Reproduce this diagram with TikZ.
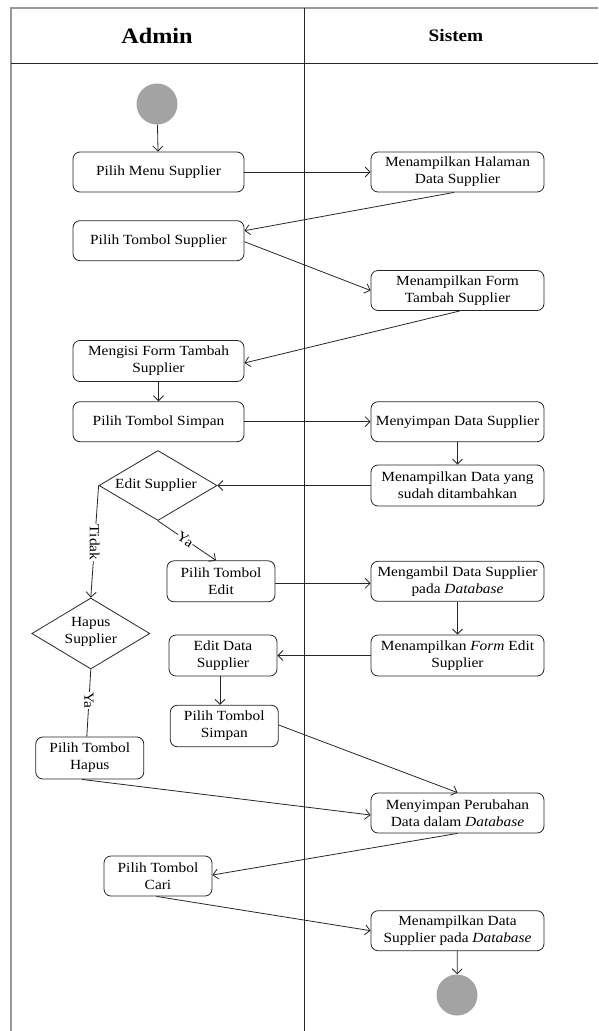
\documentclass[tikz,border=0pt]{standalone}
\usepackage{fontspec}
\setmainfont{Liberation Serif}[FakeStretch=1.1]
\usetikzlibrary{arrows.meta,shapes.geometric,calc}
\begin{document}
\begin{tikzpicture}[x=1pt,y=-1pt,
  txt/.style={font=\fontsize{14}{17}\selectfont},
  act/.style={txt, draw=black!85, line width=0.8pt, rounded corners=7pt, align=center, inner sep=1pt, minimum height=40pt},
  wide/.style={act, minimum width=173pt},
  lwide/.style={act, minimum width=171pt},
  small/.style={act, minimum width=108pt},
  dec/.style={diamond, draw=black!85, line width=0.8pt, inner sep=0pt, minimum width=118pt, minimum height=70pt},
  dot/.style={circle, fill=black!36, minimum size=41pt, inner sep=0pt},
  flow/.style={draw=black!85, line width=0.8pt, -{Straight Barb[length=5pt,width=10pt]}},
  plain/.style={draw=black!85, line width=0.8pt},
  lbl/.style={txt, fill=white, inner sep=0.5pt}
]
\useasboundingbox (0,0) rectangle (598,1031);
% frame
\draw[black!40, line width=1.6pt] (11,1031) -- (11,8) -- (598,8);
\draw[black!85, line width=1pt] (11,63) -- (598,63);
\draw[black!85, line width=1pt] (304,8) -- (304,1031);
\node (hadmin) at (157,36) {\fontsize{22}{26}\selectfont\bfseries Admin};
\node (hsistem) at (456,36) {\fontsize{17.5}{20}\selectfont\bfseries Sistem};

% nodes
\node[dot] (start) at (157,104) {};
\node[lwide] (n1) at (158.5,172) {Pilih Menu Supplier};
\node[wide] (s1) at (457.5,172) {Menampilkan Halaman\\Data Supplier};
\node[lwide] (n2) at (158.5,240.7) {Pilih Tombol Supplier};
\node[wide] (s2) at (457.5,290.5) {Menampilkan Form\\Tambah Supplier};
\node[lwide, minimum height=41pt] (n3) at (158.5,361) {Mengisi Form Tambah\\Supplier};
\node[lwide] (n4) at (158.5,421.7) {Pilih Tombol Simpan};
\node[wide] (s3) at (457.5,421.7) {Menyimpan Data Supplier};
\node[wide, minimum height=41pt] (s4) at (457.5,485.5) {Menampilkan Data yang\\sudah ditambahkan};
\node[dec] (d1) at (158,485.5) {};
\node[txt] (d1t) at (156,485.5) {Edit Supplier};
\node[small, minimum height=41pt] (n5) at (221,581.3) {Pilih Tombol\\Edit};
\node[wide] (s5) at (457.5,581.3) {Mengambil Data Supplier\\pada \textit{Database}};
\node[dec, minimum height=71pt] (d2) at (90.8,633.5) {};
\node[txt, align=center] (d2t) at (90.8,632) {Hapus\\Supplier};
\node[small, minimum height=41pt] (n6) at (223,655.5) {Edit Data\\Supplier};
\node[wide, minimum height=41pt] (s6) at (457.5,655.5) {Menampilkan \textit{Form} Edit\\Supplier};
\node[small, minimum height=41.5pt] (n7) at (224.3,726) {Pilih Tombol\\Simpan};
\node[small, minimum height=42pt] (n8) at (89.8,758) {Pilih Tombol\\Hapus};
\node[wide] (s7) at (457.5,813) {Menyimpan Perubahan\\Data dalam \textit{Database}};
\node[small] (n9) at (158,876) {Pilih Tombol\\Cari};
\node[wide] (s8) at (457.5,930.7) {Menampilkan Data\\Supplier pada \textit{Database}};
\node[dot] (end) at (457,995) {};

% connectors
\draw[flow] (start) -- (n1);
\draw[flow] (n1) -- (s1);
\draw[flow] ($(s1.south)+(-3.5,0)$) -- ($(n2.east)+(0,-10)$);
\draw[flow] ($(n2.east)+(0,1)$) -- (s2.west);
\draw[flow] ($(s2.south)+(2.5,0)$) -- ($(n3.east)+(0,2)$);
\draw[flow] (n3) -- (n4);
\draw[flow] (n4) -- (s3);
\draw[flow] (s3) -- (s4);
\draw[flow] (s4.west) -- (d1.east);
\draw[flow] (d1.west) -- node[lbl, pos=0.51, rotate=-90] {Tidak} (d2.north);
\draw[flow] (d1.south) -- node[lbl, pos=0.47, rotate=-33] {Ya} ($(n5.north)+(-5,0)$);
\draw[flow] ($(n5.east)+(0,2)$) -- ($(s5.west)+(0,2)$);
\draw[flow] (s5) -- (s6);
\draw[flow] (s6.west) -- (n6.east);
\draw[flow] ($(n6.south)+(-3,0)$) -- ($(n7.north)+(-4.3,0)$);
\draw[plain] (d2.south) -- node[lbl, pos=0.46, rotate=-90] {Ya} ($(n8.north)+(-3,0)$);
\draw[flow] ($(n7.east)+(0,-1)$) -- (s7.north);
\draw[flow] ($(n8.south)+(-8,0)$) -- ($(s7.west)+(0,2)$);
\draw[flow] (s7.south) -- ($(n9.east)+(0,-1)$);
\draw[flow] ($(n9.south)+(-1.5,0)$) -- (s8.west);
\draw[flow] (s8) -- (end);
\end{tikzpicture}
\end{document}
